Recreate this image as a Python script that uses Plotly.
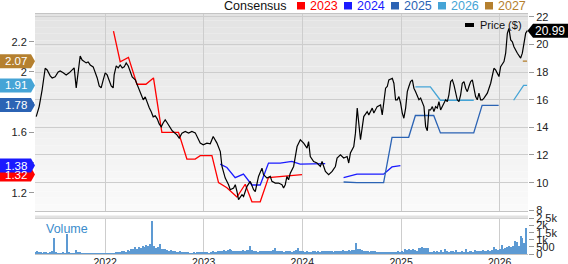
import plotly.graph_objects as go
import pandas as pd

# ---------------- data ----------------
price_t = [2021.300,2021.330,2021.360,2021.391,2021.411,2021.442,2021.462,2021.492,2021.523,2021.543,
           2021.574,2021.604,2021.635,2021.665,2021.685,2021.706,2021.726,2021.746,2021.766,2021.787,
           2021.807,2021.827,2021.848,2021.878,2021.898,2021.919,2021.939,2021.959,2021.980,2022.000,
           2022.020,2022.041,2022.061,2022.081,2022.091,2022.112,2022.132,2022.152,2022.173,2022.193,
           2022.213,2022.234,2022.254,2022.274,2022.305,2022.325,2022.345,2022.365,2022.386,2022.406,
           2022.426,2022.447,2022.467,2022.487,2022.508,2022.528,2022.548,2022.569,2022.589,2022.609,
           2022.629,2022.660,2022.680,2022.728,2022.751,2022.779,2022.812,2022.846,2022.880,2022.914,
           2022.944,2022.964,2022.995,2023.032,2023.066,2023.096,2023.134,2023.168,2023.185,2023.218,
           2023.252,2023.269,2023.303,2023.320,2023.337,2023.353,2023.388,2023.404,2023.439,2023.472,
           2023.506,2023.523,2023.556,2023.591,2023.607,2023.642,2023.675,2023.692,2023.726,2023.759,
           2023.794,2023.810,2023.827,2023.844,2023.861,2023.878,2023.912,2023.929,2023.947,2023.980,
           2024.014,2024.048,2024.064,2024.081,2024.115,2024.149,2024.183,2024.200,2024.234,2024.267,
           2024.302,2024.335,2024.352,2024.386,2024.419,2024.454,2024.470,2024.487,2024.521,2024.538,
           2024.556,2024.589,2024.622,2024.657,2024.673,2024.708,2024.724,2024.758,2024.792,2024.809,
           2024.843,2024.860,2024.876,2024.911,2024.927,2024.944,2024.961,2024.978,2024.995,2025.012,
           2025.028,2025.046,2025.063,2025.079,2025.096,2025.114,2025.130,2025.147,2025.164,2025.181,
           2025.198,2025.215,2025.232,2025.249,2025.266,2025.282,2025.299,2025.317,2025.333,2025.350,
           2025.367,2025.384,2025.401,2025.418,2025.434,2025.452,2025.469,2025.485,2025.503,2025.520,
           2025.536,2025.553,2025.570,2025.587,2025.604,2025.621,2025.638,2025.655,2025.672,2025.688,
           2025.706,2025.723,2025.739,2025.756,2025.773,2025.790,2025.807,2025.824,2025.841,2025.875,
           2025.909,2025.942,2025.959,2025.977,2025.993,2026.010,2026.044,2026.061,2026.078,2026.094,
           2026.112,2026.129,2026.145,2026.180,2026.213,2026.230,2026.247,2026.264,2026.281]
price_v = [14.78,15.50,16.71,18.27,18.15,17.72,17.57,17.65,18.01,18.08,
           17.94,17.79,17.94,18.15,18.30,16.85,18.15,19.16,18.87,18.73,
           18.66,18.73,18.51,18.37,18.01,17.57,17.00,16.85,17.43,17.94,
           17.79,17.43,17.00,16.85,17.79,18.44,18.30,18.51,18.30,18.37,
           18.66,18.44,18.08,17.65,17.43,17.07,16.71,16.35,15.99,16.20,
           15.77,15.41,15.12,14.76,14.83,14.61,14.25,14.04,14.33,14.54,
           14.33,13.96,13.75,13.46,13.22,13.58,13.70,13.58,13.70,13.60,
           13.10,12.86,12.74,12.86,12.81,13.34,12.86,12.25,11.17,10.33,
           9.85,9.49,9.61,9.85,9.36,8.77,9.13,9.00,9.73,10.09,
           9.49,9.36,10.45,11.05,10.57,10.33,10.45,10.09,9.97,9.97,
           9.85,9.61,9.85,10.45,10.21,10.69,11.17,11.89,12.61,13.10,
           12.86,12.50,12.97,11.89,11.53,11.42,11.17,11.53,10.81,10.57,
           10.81,11.17,11.78,12.01,11.78,11.89,11.42,12.14,12.61,13.58,
           15.39,13.10,14.78,15.14,14.90,15.39,15.03,15.50,15.62,14.90,
           16.83,16.95,17.43,17.55,17.19,15.99,15.99,16.22,15.75,15.03,
           14.66,15.39,16.58,16.95,17.31,17.43,16.83,16.58,16.22,15.99,
           16.11,15.75,15.50,14.06,13.75,15.26,15.26,15.50,15.14,15.50,
           15.39,15.86,15.26,15.50,15.75,15.99,15.86,16.35,17.31,17.43,
           17.07,16.47,15.99,15.86,16.35,17.19,17.31,16.83,16.58,16.95,
           17.31,17.43,16.95,16.22,15.99,16.47,15.99,15.99,16.11,16.47,
           17.19,18.27,18.15,17.91,17.67,18.39,18.75,19.36,20.80,21.16,
           20.32,20.19,19.83,19.36,19.00,19.36,20.08,20.80,20.99]

cons_2023_t = [2022.084,2022.152,2022.236,2022.322,2022.413,2022.490,2022.575,2022.744,2022.829,2022.913,
               2022.964,2023.083,2023.150,2023.235,2023.337,2023.421,2023.489,2023.573,2023.657,2023.878,2023.997]
cons_2023_v = [2.27,2.067,2.096,1.918,1.918,1.96,1.60,1.60,1.423,1.423,
               1.445,1.445,1.267,1.233,1.171,1.256,1.14,1.14,1.30,1.311,1.32]
cons_2024_t = [2023.167,2023.235,2023.319,2023.403,2023.489,2023.573,2023.657,2023.776,2023.894,2023.978,
               2024.232,None,2024.418,2024.553,2024.823,2024.908,2024.993]
cons_2024_v = [1.389,1.367,1.30,1.323,1.251,1.251,1.396,1.396,1.407,1.389,
               1.393,None,1.30,1.323,1.323,1.371,1.38]
cons_2025_t = [2024.418,2024.553,2024.823,2024.908,2025.077,2025.145,2025.331,2025.399,2025.737,2025.822,2025.990]
cons_2025_v = [1.271,1.267,1.267,1.567,1.567,1.711,1.711,1.596,1.596,1.778,1.778]
cons_2026_t = [2025.145,2025.297,2025.399,2025.737,None,2026.142,2026.243,2026.278]
cons_2026_v = [1.90,1.90,1.812,1.812,None,1.812,1.911,1.911]
cons_2027_t = [2026.235,2026.278]
cons_2027_v = [2.071,2.071]

cons_years = ["2023", "2024", "2025", "2026", "2027"]
cons_labels = {"2023": "1.32", "2024": "1.38", "2025": "1.78", "2026": "1.91", "2027": "2.07"}
price_label = "20.99"

volume_start = "2021-04-16"
volume = [150,220,180,160,140,200,170,130,160,240,1130,150,120,110,140,180,130,1450,160,120,140,130,290,180,150,120,
          100,90,80,70,90,60,80,70,60,80,90,70,80,60,70,90,100,200,150,180,220,260,200,300,250,360,
          420,500,380,560,450,600,520,650,580,730,2350,600,480,560,725,420,380,360,300,280,290,240,260,200,180,220,
          200,180,150,170,120,140,160,130,150,180,200,170,150,160,140,180,220,200,180,250,260,220,300,280,320,410,
          300,250,280,220,260,240,300,280,350,320,600,300,250,220,200,240,260,220,280,250,230,260,300,430,280,240,
          220,250,200,280,230,260,210,240,300,430,280,250,220,200,240,210,190,220,250,200,230,210,260,240,220,250,
          230,260,210,240,280,220,260,300,250,280,320,260,300,350,800,420,400,300,260,240,220,200,240,260,220,200,
          180,160,200,170,150,190,160,200,180,170,220,200,250,200,360,340,380,320,360,300,280,480,460,500,450,480,
          470,200,180,220,160,250,200,300,180,400,220,190,230,260,180,350,210,170,240,200,390,180,220,250,200,300,
          250,280,220,300,260,240,310,280,330,530,380,290,420,650,400,480,560,600,520,620,950,900,600,1300,1130,780,1900]

eps_ticks = [1.2, 1.4, 1.6, 1.8, 2.0, 2.2]
eps_ticktext = ["1.2", "1.4", "1.6", "1.8", "2", "2.2"]
vol_ticks = [0, 500, 1000, 1500, 2000, 2500]
vol_ticktext = ["0", "500", "1k", "1.5k", "2k", "2.5k"]

# ---------------- styling ----------------
colors = {"2023": "#ff0000", "2024": "#1a1aff", "2025": "#2b63b4", "2026": "#45a4d6", "2027": "#b5802f"}
FONT = "Liberation Sans, Arial, sans-serif"
W, H = 568, 264
ML, MR, MT, MB = 35, 40, 14, 10
PW, PH = W - ML - MR, H - MT - MB


def px(x):
    return (x - ML) / PW


def py(y):
    return (H - MB - y) / PH


def to_date(y):
    if y is None:
        return None
    yi = int(y)
    s = pd.Timestamp(f"{yi}-01-01")
    e = pd.Timestamp(f"{yi + 1}-01-01")
    return s + (e - s) * (y - yi)


def eps_px(v):
    return 41.7 + (2.2 - v) * 151


# tick labels that sit behind the value callouts are hidden (as in the reference)
hidden_eps = set()
for lab in cons_labels.values():
    for tv in eps_ticks:
        if abs(eps_px(tv) - eps_px(float(lab))) < 9:
            hidden_eps.add(tv)
eps_text_shown = ["" if tv in hidden_eps else tt for tv, tt in zip(eps_ticks, eps_ticktext)]

fig = go.Figure()

vol_dates = pd.date_range(volume_start, periods=len(volume), freq="7D")
fig.add_trace(go.Bar(x=vol_dates, y=volume, xaxis="x2", yaxis="y3",
                     marker=dict(color="#5d9ad3", line=dict(width=0)),
                     width=4.5 * 86400000, hoverinfo="skip"))

series = [("2023", cons_2023_t, cons_2023_v), ("2024", cons_2024_t, cons_2024_v),
          ("2025", cons_2025_t, cons_2025_v), ("2026", cons_2026_t, cons_2026_v),
          ("2027", cons_2027_t, cons_2027_v)]
for yr, t, v in series:
    fig.add_trace(go.Scatter(x=[to_date(a) for a in t], y=v, mode="lines", xaxis="x", yaxis="y",
                             line=dict(color=colors[yr], width=1.3), connectgaps=False, hoverinfo="skip"))

fig.add_trace(go.Scatter(x=[to_date(a) for a in price_t], y=price_v, mode="lines", xaxis="x", yaxis="y2",
                         line=dict(color="#000000", width=1.2), hoverinfo="skip"))

main_dom = [py(211), 1.0]
vol_dom = [0.0, py(218.5)]

xr = ["2021-04-16", "2026-04-16"]
grid = "#cdcdcd"
tf = dict(size=11, color="#222")
fig.update_layout(
    width=W, height=H, margin=dict(l=ML, r=MR, t=MT, b=MB, autoexpand=False),
    paper_bgcolor="white", plot_bgcolor="rgba(0,0,0,0)", showlegend=False,
    font=dict(family=FONT, size=11, color="#222"),
    bargap=0,
    xaxis=dict(domain=[0, 1], anchor="y", type="date", range=xr, showgrid=True, gridcolor=grid,
               dtick="M12", tick0="2022-01-01", showticklabels=False, showline=True, linecolor="#c4c4c4",
               mirror=True, zeroline=False, ticks="", automargin=False),
    xaxis2=dict(domain=[0, 1], anchor="y3", type="date", range=xr, matches="x", showgrid=True, gridcolor=grid,
                dtick="M12", tick0="2022-01-01", tickformat="%Y", showline=True, linecolor="#c4c4c4",
                mirror=True, ticks="", tickfont=dict(size=10.5, color="#222"), automargin=False,
                ticklabelstandoff=-2),
    yaxis=dict(domain=main_dom, range=[1.079, 2.383], tickvals=eps_ticks, ticktext=eps_text_shown,
               showgrid=False, zeroline=False, ticks="outside", ticklen=5, tickcolor="#9a9a9a",
               showline=False, tickfont=tf, automargin=False),
    yaxis2=dict(domain=main_dom, overlaying="y", side="right", range=[7.95, 22.195], dtick=2, tick0=0,
                showgrid=True, gridcolor=grid, zeroline=False, ticks="outside", ticklen=5,
                tickcolor="#9a9a9a", showline=False, tickfont=tf, automargin=False),
    yaxis3=dict(domain=vol_dom, anchor="x2", side="right", range=[0, 2500], tickvals=vol_ticks,
                ticktext=vol_ticktext, showgrid=False, zeroline=False, ticks="outside", ticklen=5,
                tickcolor="#9a9a9a", showline=False, tickfont=tf, automargin=False),
)

shapes = []
# gradient background of the price panel
N = 30
for i in range(N):
    f = i / (N - 1)
    c = int(round(227 + (250 - 227) * f))
    shapes.append(dict(type="rect", xref="x domain", yref="y domain", x0=0, x1=1,
                       y0=1 - (i + 1) / N, y1=1 - i / N, fillcolor=f"rgb({c},{c},{c})",
                       line=dict(width=0), layer="below"))
# separator band between panels
shapes.append(dict(type="rect", xref="paper", yref="paper", x0=0, x1=1, y0=py(218.6), y1=py(215.6),
                   fillcolor="#e2e2e2", line=dict(width=0), layer="above"))

annotations = []

# left value callouts (1.32 first so that 1.38 sits on top of it)
for yr in ["2023", "2027", "2026", "2025", "2024"]:
    lab = cons_labels[yr]
    yc = eps_px(float(lab))
    path = (f"M {px(0)},{py(yc - 7)} L {px(31)},{py(yc - 7)} L {px(35)},{py(yc)} "
            f"L {px(31)},{py(yc + 7)} L {px(0)},{py(yc + 7)} Z")
    shapes.append(dict(type="path", xref="paper", yref="paper", path=path, fillcolor=colors[yr],
                       line=dict(width=0), layer="above"))
    annotations.append(dict(xref="paper", yref="paper", x=px(15.5), y=py(yc), text=lab, showarrow=False,
                            xanchor="center", yanchor="middle", font=dict(color="white", size=11.5)))

# price callout
yc = 16.7 + (22 - float(price_label)) * 13.83
path = (f"M {px(527.5)},{py(yc)} L {px(533)},{py(yc - 7)} L {px(568)},{py(yc - 7)} "
        f"L {px(568)},{py(yc + 7)} L {px(533)},{py(yc + 7)} Z")
shapes.append(dict(type="path", xref="paper", yref="paper", path=path, fillcolor="#000000",
                   line=dict(width=0), layer="above"))
annotations.append(dict(xref="paper", yref="paper", x=px(550), y=py(yc), text=price_label, showarrow=False,
                        xanchor="center", yanchor="middle", font=dict(color="white", size=12)))

# top legend
annotations.append(dict(xref="paper", yref="paper", x=px(222), y=py(6), text="Consensus", showarrow=False,
                        xanchor="left", yanchor="middle", font=dict(color="#111", size=12.5)))
for k, yr in enumerate(cons_years):
    sx = 297 + 47 * k
    shapes.append(dict(type="rect", xref="paper", yref="paper", x0=px(sx), x1=px(sx + 8),
                       y0=py(9.5), y1=py(2), fillcolor=colors[yr], line=dict(width=0)))
    annotations.append(dict(xref="paper", yref="paper", x=px(sx + 11), y=py(6), text=yr, showarrow=False,
                            xanchor="left", yanchor="middle", font=dict(color=colors[yr], size=12.5)))

# price legend
shapes.append(dict(type="rect", xref="paper", yref="paper", x0=px(465), x1=px(474), y0=py(27), y1=py(23),
                   fillcolor="#000000", line=dict(width=0)))
annotations.append(dict(xref="paper", yref="paper", x=px(478), y=py(25), text="Price ($)", showarrow=False,
                        xanchor="left", yanchor="middle", font=dict(color="#111", size=11)))

# volume label
annotations.append(dict(xref="paper", yref="paper", x=px(44), y=py(229), text="Volume", showarrow=False,
                        xanchor="left", yanchor="middle", font=dict(color="#3a8ccc", size=12.5)))

fig.update_layout(shapes=shapes, annotations=annotations)
fig.write_html("out.html")
